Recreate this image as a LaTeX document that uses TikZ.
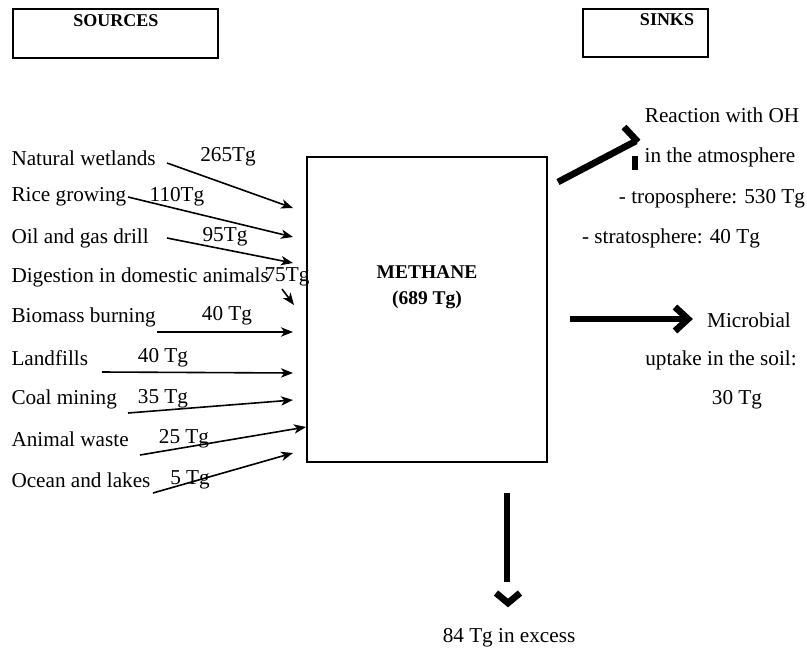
\documentclass[tikz,border=0pt]{standalone}
\usepackage{fontspec}
\setmainfont{Liberation Serif}
\usetikzlibrary{arrows.meta}

\tikzset{every picture/.style={line width=0.75pt}}
\tikzset{
  lbl/.style={font=\fontsize{15.9}{19}\selectfont, inner sep=0pt},
  ttl/.style={font=\fontsize{13.5}{16}\selectfont\bfseries, inner sep=0pt},
  src/.style={line width=1.2pt, -{Stealth[length=9pt,width=7pt,inset=2.5pt]}},
  sink/.style={line width=5pt, line cap=butt, line join=miter}
}

\begin{document}
\begin{tikzpicture}[x=0.75pt,y=0.75pt,yscale=-1,xscale=1]
	\useasboundingbox (0,0) rectangle (807,654);

	%Shape: Rectangle
	\draw [line width=1.1pt]  (13,9) rectangle (218,58) ;
	%Shape: Rectangle
	\draw [line width=1.1pt]  (583,9) rectangle (708,57) ;
	%Shape: Rectangle
	\draw [line width=1.1pt]  (307,157) rectangle (547,462) ;

	% Text Node
	\node [ttl] (sources) at (116,21) {SOURCES};
	% Text Node
	\node [ttl] (sinks) at (667,20) {SINKS};
	% Text Node
	\node [ttl, font=\fontsize{14.6}{17}\selectfont\bfseries] (methane) at (427,272) {METHANE};
	% Text Node
	\node [ttl, font=\fontsize{14.6}{17}\selectfont\bfseries] (methanetot) at (427,300) {(689 Tg)};

	% Text Node
	\node [lbl, anchor=west] (wetlands) at (11,158) {Natural wetlands};
	\node [lbl] (wetlandsval) at (228,157) {265Tg};
	% Text Node
	\node [lbl, anchor=west] (rice) at (11,197) {Rice growing};
	\node [lbl] (riceval) at (177,197) {110Tg};
	% Text Node
	\node [lbl, anchor=west] (oil) at (11,238) {Oil and gas drill};
	\node [lbl] (oilval) at (225,237) {95Tg};
	% Text Node
	\node [lbl, anchor=west] (digestion) at (11,277) {Digestion in domestic animals};
	\node [lbl] (digestionval) at (287,277) {75Tg};
	% Text Node
	\node [lbl, anchor=west] (biomass) at (11,317) {Biomass burning};
	\node [lbl] (biomassval) at (227,316) {40 Tg};
	% Text Node
	\node [lbl, anchor=west] (landfills) at (11,358) {Landfills};
	\node [lbl] (landfillsval) at (163,358) {40 Tg};
	% Text Node
	\node [lbl, anchor=west] (coal) at (11,399) {Coal mining};
	\node [lbl] (coalval) at (163,399) {35 Tg};
	% Text Node
	\node [lbl, anchor=west] (waste) at (11,439) {Animal waste};
	\node [lbl] (wasteval) at (184,439) {25 Tg};
	% Text Node
	\node [lbl, anchor=west] (ocean) at (11,480) {Ocean and lakes};
	\node [lbl] (oceanval) at (190,480) {5 Tg};

	% Text Node
	\node [lbl] (reaction) at (722,115) {Reaction with OH};
	\node [lbl] (atmos) at (720,157) {in the atmosphere};
	\node [lbl] (tropo) at (712,198) {- troposphere: 530 Tg};
	\node [lbl] (strato) at (671,238) {- stratosphere: 40 Tg};
	% Text Node
	\node [lbl] (microbial) at (749,320) {Microbial};
	\node [lbl] (uptake) at (721,360) {uptake in the soil:};
	\node [lbl] (uptakeval) at (737,400) {30 Tg};
	% Text Node
	\node [lbl] (excess) at (509,638) {84 Tg in excess};

	% arrow ends
	\coordinate (wetlands-s) at (167,163);  \coordinate (wetlands-e) at (293,208);
	\coordinate (rice-s) at (128,197);      \coordinate (rice-e) at (293,237);
	\coordinate (oil-s) at (167,238);       \coordinate (oil-e) at (293,263);
	\coordinate (digestion-s) at (282,289); \coordinate (digestion-e) at (294,305);
	\coordinate (biomass-s) at (157,332);   \coordinate (biomass-e) at (293,332);
	\coordinate (landfills-s) at (102,372); \coordinate (landfills-e) at (293,373);
	\coordinate (coal-s) at (128,413);      \coordinate (coal-e) at (293,400);
	\coordinate (waste-s) at (140,455);     \coordinate (waste-e) at (306,427);
	\coordinate (ocean-s) at (153,493);     \coordinate (ocean-e) at (293,453);

	%Straight Lines
	\draw [src] (wetlands-s) -- (wetlands-e) ;
	\draw [src] (rice-s) -- (rice-e) ;
	\draw [src] (oil-s) -- (oil-e) ;
	\draw [src] (digestion-s) -- (digestion-e) ;
	\draw [src] (biomass-s) -- (biomass-e) ;
	\draw [src] (landfills-s) -- (landfills-e) ;
	\draw [src] (coal-s) -- (coal-e) ;
	\draw [src] (waste-s) -- (waste-e) ;
	\draw [src] (ocean-s) -- (ocean-e) ;

	%Straight Lines (reaction)
	\draw [sink] (558,182) -- (636,141) ;
	\draw [sink] (624,127) -- (638,142) ;
	\draw [sink] (635,156) -- (635,170) ;
	%Straight Lines (microbial)
	\draw [sink] (570,319) -- (686,319) ;
	\draw [sink] (675,307) -- (688,319) -- (675,331) ;
	%Straight Lines (excess)
	\draw [sink] (507,493) -- (507,582) ;
	\draw [sink] (496,593) -- (508,603) -- (520,593) ;

\end{tikzpicture}
\end{document}
